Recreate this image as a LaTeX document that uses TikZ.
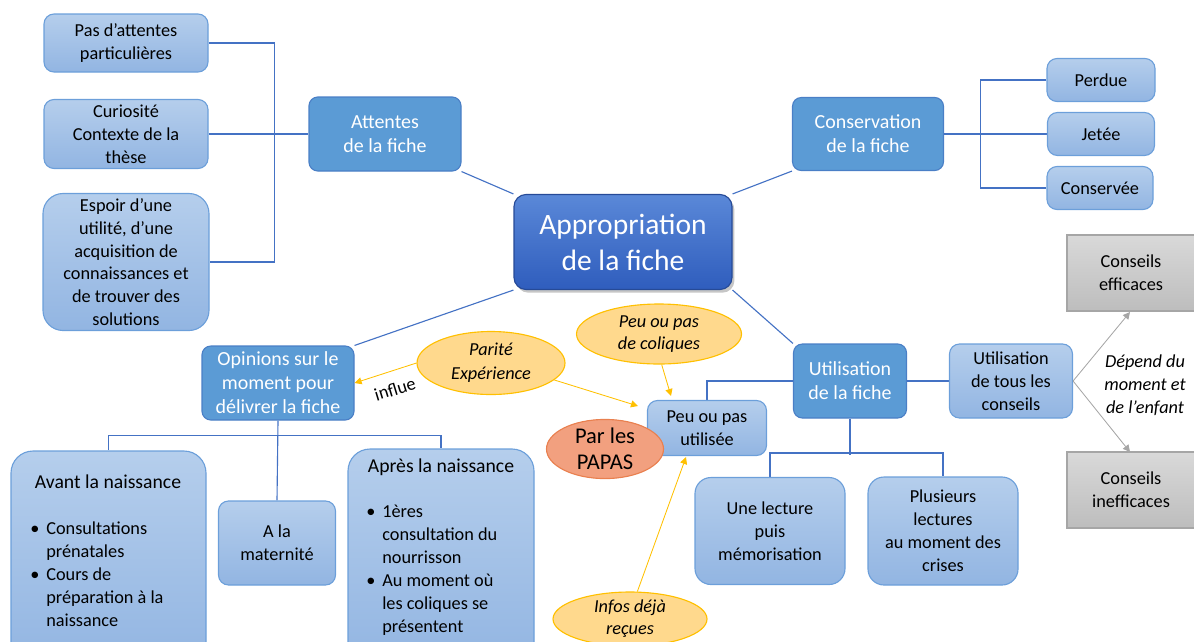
\documentclass[tikz,border=0pt]{standalone}
\usepackage{fontspec}
\setmainfont{Carlito}
\usetikzlibrary{shapes.geometric,arrows.meta,shadows,backgrounds}
\definecolor{lbA}{HTML}{B5CEEC}
\definecolor{lbB}{HTML}{92B5E2}
\definecolor{lbD}{HTML}{6C9FDA}
\definecolor{dbF}{HTML}{5B9BD5}
\definecolor{dbD}{HTML}{4A7FC6}
\definecolor{apA}{HTML}{5A88D8}
\definecolor{apB}{HTML}{2F5DBD}
\definecolor{lnC}{HTML}{4472C4}
\definecolor{yeF}{HTML}{FFD98D}
\definecolor{yeD}{HTML}{FFC000}
\definecolor{orF}{HTML}{F2A07F}
\definecolor{orD}{HTML}{E9804F}
\definecolor{grA}{HTML}{D9D9D9}
\definecolor{grB}{HTML}{BDBDBD}
\definecolor{grD}{HTML}{A6A6A6}
\begin{document}
\begin{tikzpicture}[x=0.025cm,y=-0.025cm,
  sz/.style 2 args={minimum width=#1*0.025cm, minimum height=#2*0.025cm},
  fnt/.style={font=\fontsize{13}{16.4}\selectfont},
  lbox/.style={draw=lbD, line width=0.8pt, rounded corners=0.25cm, top color=lbA, bottom color=lbB, align=center, inner sep=0pt, fnt},
  dbox/.style={draw=dbD, line width=0.8pt, rounded corners=0.22cm, fill=dbF, text=white, align=center, inner sep=0pt, font=\fontsize{14.2}{17}\selectfont},
  ybox/.style={ellipse, draw=yeD, fill=yeF, line width=0.8pt, inner sep=0pt, align=center, font=\itshape\fontsize{13}{15.6}\selectfont},
  gbox/.style={draw=grD, line width=0.8pt, top color=grA, bottom color=grB, align=center, inner sep=0pt, fnt},
  conn/.style={draw=lnC, line width=0.8pt},
  yarr/.style={draw=yeD, line width=0.6pt, -{Triangle[width=5pt,length=5pt]}},
  garr/.style={draw=grD, line width=0.6pt, -{Triangle[width=5pt,length=5pt]}}
]
\useasboundingbox (0,0) rectangle (1194,641);

% left branch
\node[lbox, sz={164}{58}] (pas) at (126,43) {Pas d’attentes\\particulières};
\node[lbox, sz={164}{69}] (cur) at (126,134) {Curiosité\\Contexte de la\\thèse};
\node[lbox, sz={166}{137}, rounded corners=0.5cm, font=\fontsize{13}{16.2}\selectfont] (esp) at (126,262) {Espoir d’une\\utilité, d’une\\acquisition de\\connaissances et\\de trouver des\\solutions};
\node[dbox, sz={152}{74}] (att) at (385,134) {Attentes\\de la fiche};

% centre
\node[draw=apB!80!black, line width=0.8pt, rounded corners=0.3cm, top color=apA, bottom color=apB, text=white, align=center, inner sep=0pt, sz={218}{95}, font=\fontsize{21}{25.6}\selectfont, drop shadow={shadow xshift=0.06cm, shadow yshift=-0.08cm, opacity=0.45}] (app) at (623,242) {Appropriation\\de la fiche};

% right top
\node[dbox, sz={151}{73}] (cons) at (868,134) {Conservation\\de la fiche};
\node[lbox, sz={108}{43}] (perd) at (1101,80) {Perdue};
\node[lbox, sz={107}{43}] (jet) at (1101,134) {Jetée};
\node[lbox, sz={106}{43}] (consv) at (1100,188) {Conservée};

% opinions
\node[dbox, sz={152}{74}] (opi) at (278,383) {Opinions sur le\\moment pour\\délivrer la fiche};
\node[lbox, sz={195}{215}, rounded corners=0.55cm] (avant) at (108.5,558.5) {};
\node[fnt, font=\fontsize{14}{17}\selectfont, inner sep=0pt] (avantT) at (108,482) {Avant la naissance};
\node[fnt, align=left, inner sep=0pt, anchor=west] (avantL) at (30,574) {\makebox[0.4cm][l]{\textbullet}Consultations\\\hspace{0.4cm}prénatales\\\makebox[0.4cm][l]{\textbullet}Cours de\\\hspace{0.4cm}préparation à la\\\hspace{0.4cm}naissance};
\node[lbox, sz={117}{84}] (mat) at (277,543) {A la\\maternité};
\node[lbox, sz={186}{217}, rounded corners=0.55cm] (apres) at (441,557.5) {};
\node[fnt, font=\fontsize{14}{17}\selectfont, inner sep=0pt] (apresT) at (441,467) {Après la naissance};
\node[fnt, align=left, inner sep=0pt, anchor=west] (apresL) at (366,570.5) {\makebox[0.4cm][l]{\textbullet}1ères\\\hspace{0.4cm}consultation du\\\hspace{0.4cm}nourrisson\\\makebox[0.4cm][l]{\textbullet}Au moment où\\\hspace{0.4cm}les coliques se\\\hspace{0.4cm}présentent};

% utilisation
\node[dbox, sz={113}{74}] (uti) at (850,381) {Utilisation\\de la fiche};
\node[lbox, sz={123}{74}] (tous) at (1011,381) {Utilisation\\de tous les\\conseils};
\node[lbox, sz={119}{55}] (peu) at (707,428) {Peu ou pas\\utilisée};
\node[lbox, sz={150}{107}, rounded corners=0.4cm] (une) at (770,531) {Une lecture\\puis\\mémorisation};
\node[lbox, sz={150}{108}, rounded corners=0.4cm] (plus) at (943,531) {Plusieurs\\lectures\\au moment des\\crises};
\node[gbox, sz={128}{76}] (eff) at (1131,273) {Conseils\\efficaces};
\node[gbox, sz={128}{76}] (ineff) at (1131,490) {Conseils\\inefficaces};
\node[align=center, inner sep=0pt, font=\itshape\fontsize{13}{16.2}\selectfont] (dep) at (1145,385) {Dépend du\\moment et\\de l’enfant};

% ellipses
\node[ybox, sz={165}{60}] (col) at (659,334) {Peu ou pas\\de coliques};
\node[ybox, sz={148}{63}, font=\itshape\fontsize{13}{17}\selectfont] (par) at (491,363) {Parité\\Expérience};
\node[ybox, sz={154}{54}] (inf) at (630,619) {Infos déjà\\reçues};
\node[ellipse, draw=orD, fill=orF, line width=0.8pt, inner sep=0pt, align=center, sz={117}{52}, font=\fontsize{16}{18.5}\selectfont] (papa) at (605,449) {Par les\\PAPAS};

% connectors (behind)
\begin{scope}[on background layer]
\draw[conn] (pas.east) -- ++(66,0) |- (esp.east);
\draw[conn] (cur.east) -- (att.west);
\draw[conn] (att.south east) -- (app.north west);
\draw[conn] (cons.south west) -- (app.north east);
\draw[conn] (opi.north east) -- (app.south west);
\draw[conn] (app.south east) -- (uti.north west);
\draw[conn] (cons.east) -- (jet.west);
\draw[conn] (perd.west) -- ++(-66,0) |- (consv.west);
\draw[conn] (opi.south) -- (mat.north);
\draw[conn] (avant.north) -- ++(0,-15) -| (apres.north);
\draw[conn] (uti.west) -| (peu.north);
\draw[conn] (uti.east) -- (tous.west);
\draw[conn] (uti.south) -- ++(0,36);
\draw[conn] (une.north) -- ++(0,-24) -| (plus.north);
\end{scope}

% yellow arrows
\coordinate (tipA) at (638,406);
\coordinate (tipB) at (671,396);
\coordinate (tipC) at (686,457);
\draw[yarr] (par.west) -- (opi.east);
\node[fnt, inner sep=0pt, rotate=17] (influe) at (395,389) {influe};
\draw[yarr] (par.-15) -- (tipA);
\draw[yarr] (col.-85) -- (tipB);
\draw[yarr] (inf.75) -- (tipC);

% gray arrows
\coordinate (tipE) at (1130,312);
\coordinate (tipF) at (1130,452);
\draw[garr] (tous.east) -- (tipE);
\draw[garr] (tous.east) -- (tipF);
\end{tikzpicture}
\end{document}
